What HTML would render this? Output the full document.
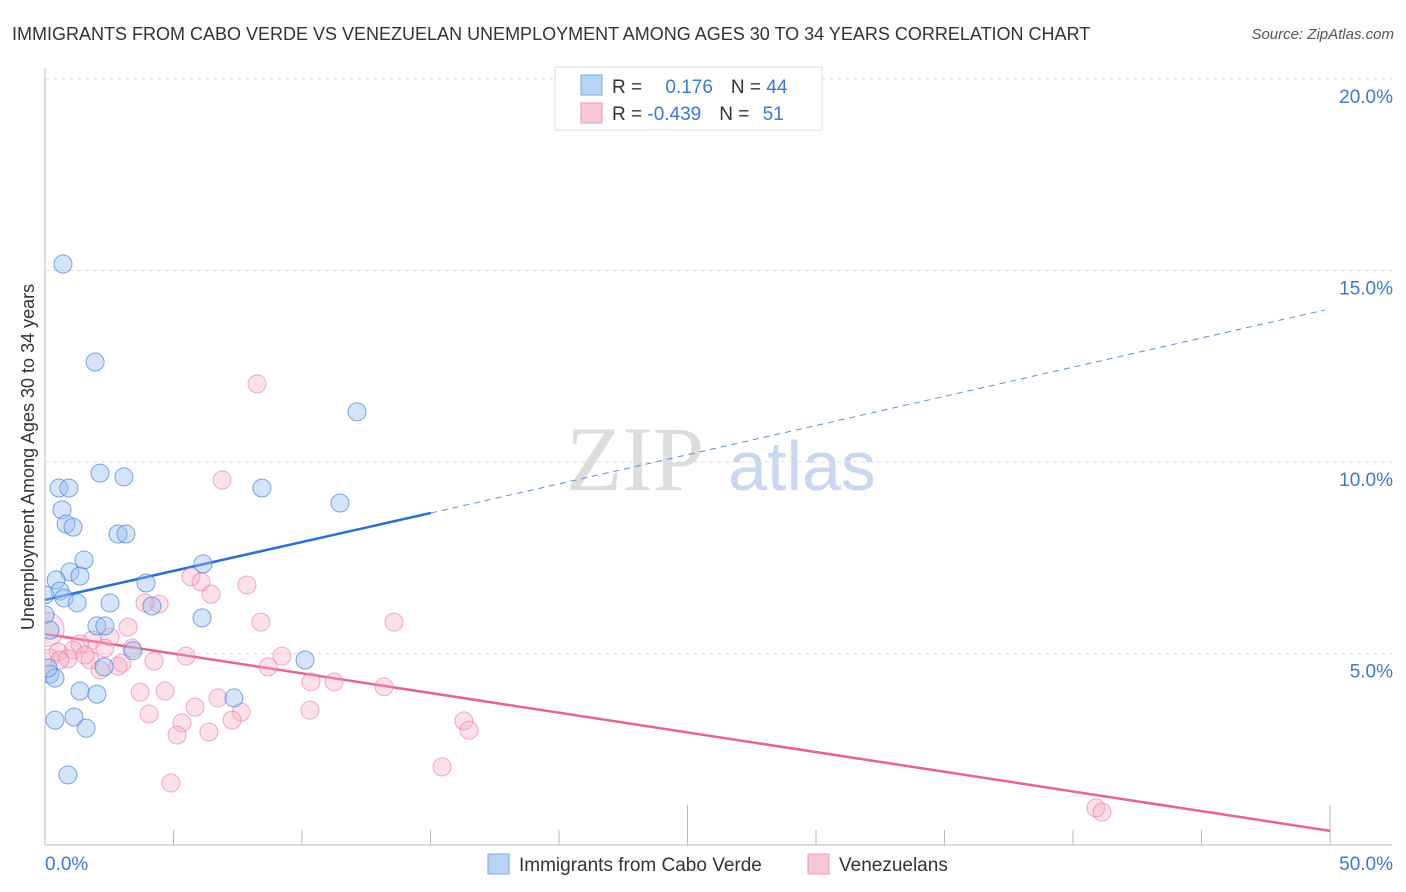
<!DOCTYPE html>
<html><head><meta charset="utf-8"><style>
body{margin:0;background:#fff;font-family:"Liberation Sans",sans-serif}
svg{display:block}
</style></head><body>
<svg width="1406" height="892" viewBox="0 0 1406 892" xmlns="http://www.w3.org/2000/svg">
<defs><clipPath id="plotclip"><rect x="45" y="60" width="1360" height="785"/></clipPath></defs>
<text x="12" y="40" font-size="18" fill="#333">IMMIGRANTS FROM CABO VERDE VS VENEZUELAN UNEMPLOYMENT AMONG AGES 30 TO 34 YEARS CORRELATION CHART</text>
<text x="1394" y="39" font-size="15" fill="#555" font-style="italic" text-anchor="end">Source: ZipAtlas.com</text>
<g>
<text x="635" y="490" font-size="92" fill="#ddd" font-family="Liberation Serif,serif" text-anchor="middle">ZIP</text>
<text x="802" y="490" font-size="70" fill="#c8d8f0" text-anchor="middle">atlas</text></g>
<g id="grid"></g><g id="axes"></g>
<text transform="translate(34,457) rotate(-90)" font-size="18" fill="#333" text-anchor="middle">Unemployment Among Ages 30 to 34 years</text>
<g id="trend"></g><g id="pts" clip-path="url(#plotclip)"></g>
<g>
<rect x="555" y="67" width="267" height="63" fill="#fff" stroke="#ddd"/>
<rect x="581" y="75" width="21" height="20" fill="#b8d3f5" stroke="#7aaae8"/>
<rect x="581" y="103" width="21" height="20" fill="#f9c8d6" stroke="#ee9ab3"/>
<text x="612" y="93" font-size="19" fill="#333">R = <tspan fill="#3a78d6" dx="18">0.176</tspan><tspan dx="18" fill="#333">N = </tspan><tspan fill="#3a78d6">44</tspan></text>
<text x="612" y="120" font-size="19" fill="#333">R = <tspan fill="#3a78d6">-0.439</tspan><tspan dx="18" fill="#333">N = </tspan><tspan fill="#3a78d6" dx="8">51</tspan></text>
</g>
<g>
<rect x="488" y="854" width="21" height="20" fill="#b8d3f5" stroke="#7aaae8"/>
<text x="519" y="871" font-size="19" fill="#333">Immigrants from Cabo Verde</text>
<rect x="808" y="854" width="21" height="20" fill="#f9c8d6" stroke="#ee9ab3"/>
<text x="839" y="871" font-size="19" fill="#333">Venezuelans</text>
</g>
</svg>
<script>
const yTicks=[5,10,15,20];
const yTickLabels=["5.0%","10.0%","15.0%","20.0%"];
const xTickVals=[0,5,10,15,20,25,30,35,40,45,50];
const blueX=[0.70,1.95,12.14,2.14,3.07,0.54,0.93,8.44,11.48,0.66,0.82,1.09,2.84,3.15,1.52,6.15,0.97,1.36,0.43,3.93,0.58,0.74,1.25,2.53,4.16,0.0,6.11,2.02,2.33,0.19,3.42,10.12,2.30,0.19,0.39,1.36,2.02,7.35,0.39,1.13,1.60,0.89,0.12,0.0];
const blueY=[15.17,12.61,11.31,9.71,9.61,9.32,9.32,9.32,8.93,8.75,8.38,8.30,8.12,8.12,7.44,7.34,7.13,7.02,6.92,6.84,6.63,6.45,6.32,6.32,6.24,6.01,5.93,5.72,5.72,5.61,5.07,4.83,4.65,4.46,4.36,4.02,3.94,3.84,3.26,3.34,3.05,1.83,4.62,6.53];
const pinkX=[0.08,8.25,6.89,5.68,6.07,7.86,6.46,4.44,3.89,8.40,13.58,3.23,2.53,1.83,1.36,1.09,0.51,0.19,0.89,2.33,3.39,5.49,9.22,4.24,3.00,1.75,2.84,8.68,10.35,11.25,13.19,3.70,4.67,6.73,5.84,7.63,4.05,10.31,7.28,5.33,16.30,16.50,5.14,6.38,15.45,4.90,40.89,41.13,2.14,0.58,1.56];
const pinkY=[5.63,12.04,9.53,7.00,6.87,6.79,6.55,6.29,6.32,5.82,5.82,5.69,5.43,5.35,5.25,5.09,5.04,4.88,4.86,5.14,5.14,4.93,4.93,4.80,4.75,4.83,4.67,4.65,4.26,4.26,4.13,3.99,4.02,3.84,3.60,3.47,3.42,3.52,3.26,3.19,3.24,3.00,2.87,2.95,2.04,1.62,0.97,0.86,4.57,4.83,4.96];
const pinkR=[17,9,9,9,9,9,9,9,9,9,9,9,9,9,9,9,9,9,9,9,9,9,9,9,9,9,9,9,9,9,9,9,9,9,9,9,9,9,9,9,9,9,9,9,9,9,9,9,9,9,9];
const blueTrend=[[0,6.40],[15.02,8.67],[49.8,13.97]];
const pinkTrend=[[0,5.51],[50,0.37]];
const X=v=>45+v*25.7, Y=v=>845-v*38.3;
const NS="http://www.w3.org/2000/svg";
function mk(t,a,p){const e=document.createElementNS(NS,t);for(const k in a)e.setAttribute(k,a[k]);p.appendChild(e);return e;}
const grid=document.getElementById('grid'),axes=document.getElementById('axes'),trend=document.getElementById('trend'),pts=document.getElementById('pts');
yTicks.forEach((v,i)=>{
 const l=mk('line',{x1:45,x2:1392,y1:Y(v),y2:Y(v),stroke:'#ddd','stroke-dasharray':'4,4'},grid);
 
 
 const t=mk('text',{x:1393,y:Y(v)+24,'font-size':19,fill:'#3a78d6','text-anchor':'end'},grid);
 t.textContent=yTickLabels[i];
 
 
});
let ax=mk('line',{x1:45,x2:45,y1:68,y2:845,stroke:'#bbb'},axes);


ax=mk('line',{x1:45,x2:1392,y1:845,y2:845,stroke:'#bbb'},axes);


xTickVals.forEach((v,i)=>{
 const tk=mk('line',{x1:X(v),x2:X(v),y1:(i==5||i==10)?805:830,y2:845,stroke:'#bbb'},axes);
 
 
});
let t=mk('text',{x:45,y:870,'font-size':19,fill:'#3a78d6'},axes);t.textContent='0.0%';


t=mk('text',{x:1393,y:870,'font-size':19,fill:'#3a78d6','text-anchor':'end'},axes);t.textContent='50.0%';


let l=mk('line',{x1:X(blueTrend[0][0]),y1:Y(blueTrend[0][1]),x2:X(blueTrend[1][0]),y2:Y(blueTrend[1][1]),stroke:'#2a6fd6','stroke-width':2.5},trend);


l=mk('line',{x1:X(blueTrend[1][0]),y1:Y(blueTrend[1][1]),x2:X(blueTrend[2][0]),y2:Y(blueTrend[2][1]),stroke:'#5a90dc','stroke-width':1,'stroke-dasharray':'6,5'},trend);


l=mk('line',{x1:X(pinkTrend[0][0]),y1:Y(pinkTrend[0][1]),x2:X(pinkTrend[1][0]),y2:Y(pinkTrend[1][1]),stroke:'#e8638f','stroke-width':2.5},trend);


pinkX.forEach((v,i)=>{
 const c=mk('circle',{cx:X(v),cy:Y(pinkY[i]),r:pinkR[i],fill:'rgba(246,170,195,0.35)',stroke:'rgba(232,120,155,0.6)','stroke-width':1},pts);
 
 
});
blueX.forEach((v,i)=>{
 const c=mk('circle',{cx:X(v),cy:Y(blueY[i]),r:9,fill:'rgba(150,190,240,0.4)',stroke:'rgba(70,130,220,0.7)','stroke-width':1},pts);
 
 
});
</script>
</body></html>
